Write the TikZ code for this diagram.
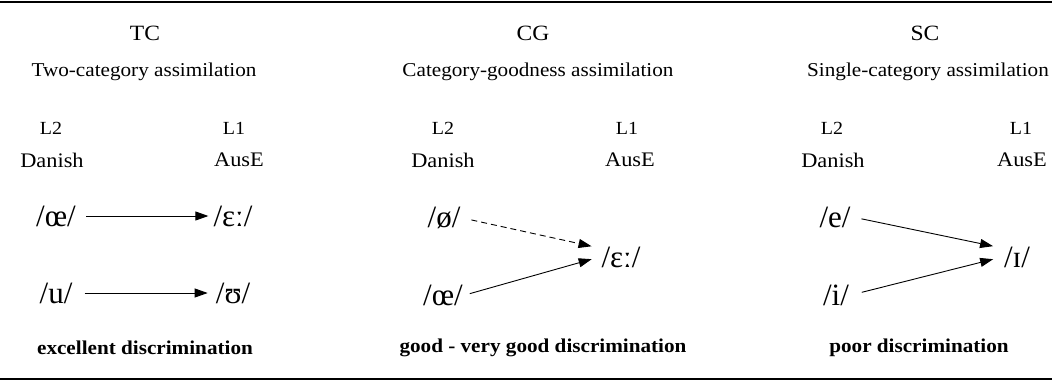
\documentclass[tikz,border=0pt]{standalone}
\usepackage{fontspec}
\setmainfont{Liberation Serif}[FakeStretch=1.08]
\newfontfamily\ipafont{Liberation Serif}
\usepackage{tikz}
\usetikzlibrary{arrows.meta}

\begin{document}
\begin{tikzpicture}[x=1pt, y=-1pt,
  titre/.style={font=\fontsize{21.8}{26}\selectfont, inner sep=2pt},
  sous/.style={font=\fontsize{19.6}{24}\selectfont, inner sep=2pt},
  langue/.style={font=\fontsize{18.5}{22}\selectfont, inner sep=2pt},
  nom/.style={font=\fontsize{20.7}{24}\selectfont, inner sep=2pt},
  son/.style={font=\ipafont\fontsize{31}{36}\selectfont, inner sep=2pt},
  verdict/.style={font=\fontsize{19.6}{24}\selectfont\bfseries, inner sep=2pt},
  fl/.style={-{Triangle[length=13pt,width=9pt]}, line width=0.9pt}]

\useasboundingbox (0,0) rectangle (1052,381);
\draw[line width=1.4pt] (0,2) -- (1052,2);
\draw[line width=1.4pt] (0,379) -- (1052,379);

% TC
\node[titre] (tc) at (145,33) {TC};
\node[sous] (tcsous) at (144,72) {Two-category assimilation};
\node[langue] (tcl2) at (51,128) {L2};
\node[langue] (tcl1) at (234,128) {L1};
\node[nom] (tcdan) at (52,160) {Danish};
\node[nom] (tcaus) at (239,160) {AusE};
\node[son] (tcoe) at (56,216) {/œ/};
\node[son] (tceps) at (233,216) {/ɛː/};
\node[son] (tcu) at (56,293) {/u/};
\node[son] (tcups) at (233,293) {/ʊ/};
\draw[fl, shorten <=8pt, shorten >=3pt] (tcoe.east) -- (tceps.west);
\draw[fl, shorten <=10pt, shorten >=6pt] (tcu.east) -- (tcups.west);
\node[verdict] (tcverd) at (145,348) {excellent discrimination};

% CG
\node[titre] (cg) at (533,33) {CG};
\node[sous] (cgsous) at (538,72) {Category-goodness assimilation};
\node[langue] (cgl2) at (443,128) {L2};
\node[langue] (cgl1) at (627,128) {L1};
\node[nom] (cgdan) at (443,160) {Danish};
\node[nom] (cgaus) at (630,160) {AusE};
\node[son] (cgoes) at (444,218) {/ø/};
\node[son] (cgeps) at (621,257) {/ɛː/};
\node[son] (cgoe) at (443,295) {/œ/};
\draw[fl, dash pattern=on 6pt off 4pt, shorten <=9pt, shorten >=8pt] (cgoes.east) -- ([yshift=9pt]cgeps.west);
\draw[fl, shorten <=5pt, shorten >=8pt] (cgoe.east) -- (cgeps.west);
\node[verdict] (cgverd) at (543,348) {good - very good discrimination};

% SC
\node[titre] (sc) at (925,33) {SC};
\node[sous] (scsous) at (928,72) {Single-category assimilation};
\node[langue] (scl2) at (832,128) {L2};
\node[langue] (scl1) at (1021,128) {L1};
\node[nom] (scdan) at (833,160) {Danish};
\node[nom] (scaus) at (1022,160) {AusE};
\node[son] (sce) at (835,217) {/e/};
\node[son] (scii) at (1017,257) {/ɪ/};
\node[son] (sci) at (836,295) {/i/};
\draw[fl, shorten <=9pt, shorten >=9pt] (sce.east) -- ([yshift=9pt]scii.west);
\draw[fl, shorten <=11pt, shorten >=9pt] (sci.east) -- (scii.west);
\node[verdict] (scverd) at (919,348) {poor discrimination};

\end{tikzpicture}
\end{document}
